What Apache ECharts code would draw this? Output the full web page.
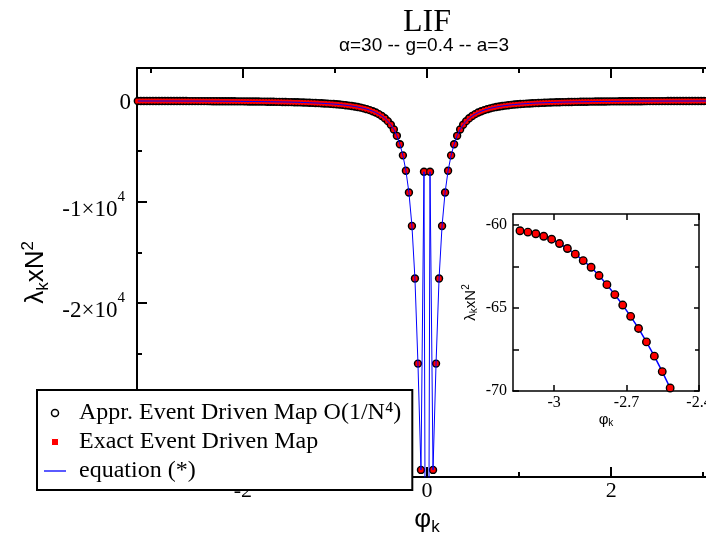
<!DOCTYPE html>
<html>
<head>
<meta charset="UTF-8">
<title>LIF</title>
<script src="https://cdn.jsdelivr.net/npm/echarts@6/dist/echarts.min.js"></script>
</head>
<body style="margin:0;background:#fff;">
<div id="main" style="width:706px;height:533px;"></div>
<script>
// spacing of the phi_k grid (one point every ~0.0327)
var dphi = 0.03272;
var kMax = 96;
// lambda_k x N^2 for k = 1..96 (right half of the plot, left half mirrors it)
var lamHalf = [
    -7050, -36500, -26000, -17600, -12400, -9100, -6950, -5430, -4330, -3500,
    -2870, -2410, -2050, -1770, -1540, -1355, -1200, -1070, -960, -867,
    -786, -716, -655, -602, -555, -513, -476, -442, -412, -386,
    -361, -339, -319, -300, -284, -268, -254, -241, -229, -218,
    -208, -198, -189, -181, -173, -166, -159, -153, -147, -142,
    -136, -131, -127, -123, -118, -115, -111, -108, -104, -101.5,
    -99, -96, -93.5, -91, -89, -87, -84.5, -82.8, -81, -79.3,
    -77.7, -76.2, -74.8, -73.4, -72.1, -70.9, -69.82, -68.83, -67.90, -67.04,
    -66.23, -65.50, -64.82, -64.19, -63.59, -63.04, -62.54, -62.14, -61.75, -61.41,
    -61.11, -60.85, -60.67, -60.52, -60.42, -60.34
];
// the equation curve at phi = 0 runs off the bottom of the plot
var eqCenter = -100000;

var names = ['Appr. Event Driven Map O(1/N\u2074)', 'Exact Event Driven Map', 'equation (*)'];

var xTicksMain = [-2, 0, 2];
var xMinorMain = [-3, -1, 1, 3];
var yTicksMain = [0, -10000, -20000, -30000];
var yMinorMain = [-5000, -15000, -25000, -35000];
var xTicksInset = [-3, -2.7, -2.4];
var yTicksInset = [-70, -65, -60];
var yMinorInset = [-67.5, -62.5];

var pts = [];
var eqPts = [];
for (var k = -kMax; k <= kMax; k++) {
    if (k === 0) {
        eqPts.push([0, eqCenter]);
        continue;
    }
    var p = [k * dphi, lamHalf[Math.abs(k) - 1]];
    pts.push(p);
    eqPts.push(p);
}

var serif = 'Liberation Serif';
var sans = 'Liberation Sans';
var black = '#000';

// one axis used only to draw a row of ticks (and optionally its line / labels)
function tickAxis(grid, pos, min, max, ticks, len, width, extra) {
    var a = {
        gridIndex: grid,
        type: 'value',
        position: pos,
        min: min,
        max: max,
        axisLine: {show: false, onZero: false, lineStyle: {color: black, width: width}},
        axisTick: {show: true, inside: true, length: len, customValues: ticks, lineStyle: {color: black, width: width}},
        axisLabel: {show: false},
        splitLine: {show: false}
    };
    for (var key in extra) {
        a[key] = extra[key];
    }
    return a;
}

var myChart = echarts.init(document.getElementById('main'));

var option = {
    animation: false,
    backgroundColor: '#fff',
    graphic: [
        {type: 'text', x: 427, y: 23, style: {text: 'LIF', font: '32px "Liberation Serif"', fill: black, align: 'center', verticalAlign: 'middle'}},
        {type: 'text', x: 424, y: 46, style: {text: '\u03b1=30 -- g=0.4 -- a=3', font: '19px "Liberation Sans"', fill: black, align: 'center', verticalAlign: 'middle'}}
    ],
    legend: {
        orient: 'vertical',
        left: 37,
        top: 390,
        padding: [11, 11, 7, 7],
        itemGap: 5,
        itemWidth: 22,
        itemHeight: 7,
        backgroundColor: '#fff',
        borderColor: black,
        borderWidth: 2,
        borderRadius: 0,
        symbolKeepAspect: true,
        selectedMode: false,
        textStyle: {fontFamily: serif, fontSize: 24, color: black, padding: [0, 0, 0, 8]},
        data: [
            {name: names[0], icon: 'circle', itemStyle: {color: '#fff', borderColor: black, borderWidth: 1.5}},
            {name: names[1], icon: 'path://M0,0h10v10h-10z', itemStyle: {color: '#ff0000', borderColor: '#fff', borderWidth: 1}},
            {name: names[2], icon: 'path://M0,0h22v1.3h-22z', itemStyle: {color: '#0000ff', borderWidth: 0}}
        ]
    },
    grid: [
        {left: 137, top: 68, right: -11, bottom: 56, show: false, outerBoundsMode: 'none'},
        {left: 513, top: 214, width: 186, height: 177, show: false, outerBoundsMode: 'none'}
    ],
    xAxis: [
        tickAxis(0, 'bottom', -3.15, 3.15, xTicksMain, 10, 2, {
            axisLine: {show: true, onZero: false, lineStyle: {color: black, width: 2}},
            axisLabel: {show: true, customValues: xTicksMain, margin: 3, color: black, fontFamily: serif, fontSize: 22},
            name: '{l|\u03c6}{s|k}',
            nameLocation: 'middle',
            nameGap: 23,
            nameTextStyle: {rich: {
                l: {fontFamily: sans, fontSize: 26, color: black},
                s: {fontFamily: sans, fontSize: 17, color: black, padding: [14, 0, 0, 0]}
            }}
        }),
        tickAxis(0, 'top', -3.15, 3.15, xTicksMain, 10, 2, {
            axisLine: {show: true, onZero: false, lineStyle: {color: black, width: 2}}
        }),
        tickAxis(0, 'bottom', -3.15, 3.15, xMinorMain, 5, 2, {}),
        tickAxis(0, 'top', -3.15, 3.15, xMinorMain, 5, 2, {}),
        tickAxis(1, 'bottom', -3.17, -2.4, xTicksInset, 6, 1.5, {
            axisLine: {show: true, onZero: false, lineStyle: {color: black, width: 1.5}},
            axisLabel: {show: true, customValues: xTicksInset, margin: 4, color: black, fontFamily: serif, fontSize: 16},
            name: '{l|\u03c6}{s|k}',
            nameLocation: 'middle',
            nameGap: 13,
            nameTextStyle: {rich: {
                l: {fontFamily: sans, fontSize: 15, color: black},
                s: {fontFamily: sans, fontSize: 10, color: black, padding: [8, 0, 0, 0]}
            }}
        }),
        tickAxis(1, 'top', -3.17, -2.4, xTicksInset, 6, 1.5, {
            axisLine: {show: true, onZero: false, lineStyle: {color: black, width: 1.5}}
        })
    ],
    yAxis: [
        tickAxis(0, 'left', -37200, 3200, yTicksMain, 10, 2, {
            axisLine: {show: true, onZero: false, lineStyle: {color: black, width: 2}},
            axisLabel: {
                show: true,
                customValues: yTicksMain,
                margin: 6,
                formatter: function (v) {
                    if (v === 0) {
                        return '{z|0}';
                    }
                    return '{b|-' + Math.abs(v / 10000) + '\u00d710}{s|4}';
                },
                rich: {
                    z: {fontFamily: serif, fontSize: 23, lineHeight: 23, color: black, padding: [6, 0, 0, 0]},
                    b: {fontFamily: serif, fontSize: 23, lineHeight: 23, color: black, padding: [17, 0, 0, 0]},
                    s: {fontFamily: serif, fontSize: 15, lineHeight: 15, color: black, padding: [0, 6, 10, 0]}
                }
            },
            name: '{l|\u03bb}{s|k}{l|xN}{p|2}',
            nameLocation: 'middle',
            nameGap: 84,
            nameTextStyle: {rich: {
                l: {fontFamily: sans, fontSize: 26, color: black},
                s: {fontFamily: sans, fontSize: 17, color: black, padding: [14, 0, 0, 0]},
                p: {fontFamily: sans, fontSize: 17, color: black, padding: [0, 0, 16, 0]}
            }}
        }),
        tickAxis(0, 'right', -37200, 3200, yTicksMain, 10, 2, {
            axisLine: {show: true, onZero: false, lineStyle: {color: black, width: 2}}
        }),
        tickAxis(0, 'left', -37200, 3200, yMinorMain, 5, 2, {}),
        tickAxis(0, 'right', -37200, 3200, yMinorMain, 5, 2, {}),
        tickAxis(1, 'left', -70, -59.33, yTicksInset, 6, 1.5, {
            axisLine: {show: true, onZero: false, lineStyle: {color: black, width: 1.5}},
            axisLabel: {show: true, customValues: yTicksInset, margin: 6, color: black, fontFamily: serif, fontSize: 16},
            name: '{l|\u03bb}{s|k}{l|xN}{p|2}',
            nameLocation: 'middle',
            nameGap: 33,
            nameTextStyle: {rich: {
                l: {fontFamily: sans, fontSize: 15, color: black},
                s: {fontFamily: sans, fontSize: 10, color: black, padding: [8, 0, 0, 0]},
                p: {fontFamily: sans, fontSize: 10, color: black, padding: [0, 0, 9, 0]}
            }}
        }),
        tickAxis(1, 'right', -70, -59.33, yTicksInset, 5, 1.5, {
            axisLine: {show: true, onZero: false, lineStyle: {color: black, width: 1.5}}
        }),
        tickAxis(1, 'left', -70, -59.33, yMinorInset, 6, 1.5, {}),
        tickAxis(1, 'right', -70, -59.33, yMinorInset, 4, 1.5, {})
    ],
    series: [
        {
            name: names[0], type: 'scatter', xAxisIndex: 0, yAxisIndex: 0, z: 2,
            symbol: 'circle', symbolSize: 6.8, data: pts,
            itemStyle: {color: '#ff0000', borderColor: black, borderWidth: 1.6, opacity: 1}
        },
        {
            name: names[1], type: 'scatter', xAxisIndex: 0, yAxisIndex: 0, z: 3,
            symbol: 'rect', symbolSize: 4.5, data: pts,
            itemStyle: {color: '#ff0000', opacity: 1}
        },
        {
            name: names[2], type: 'line', xAxisIndex: 0, yAxisIndex: 0, z: 4,
            symbol: 'none', data: eqPts,
            lineStyle: {color: '#0000ff', width: 1}
        },
        {
            name: names[2], type: 'line', xAxisIndex: 4, yAxisIndex: 4, z: 1,
            symbol: 'none', data: eqPts,
            lineStyle: {color: '#0000ff', width: 1.5}
        },
        {
            name: names[0], type: 'scatter', xAxisIndex: 4, yAxisIndex: 4, z: 2,
            symbol: 'circle', symbolSize: 7.5, data: pts,
            itemStyle: {color: '#ff0000', borderColor: black, borderWidth: 1.4, opacity: 1}
        },
        {
            name: names[1], type: 'scatter', xAxisIndex: 4, yAxisIndex: 4, z: 3,
            symbol: 'rect', symbolSize: 5, data: pts,
            itemStyle: {color: '#ff0000', opacity: 1}
        }
    ]
};

myChart.setOption(option);
</script>
</body>
</html>
